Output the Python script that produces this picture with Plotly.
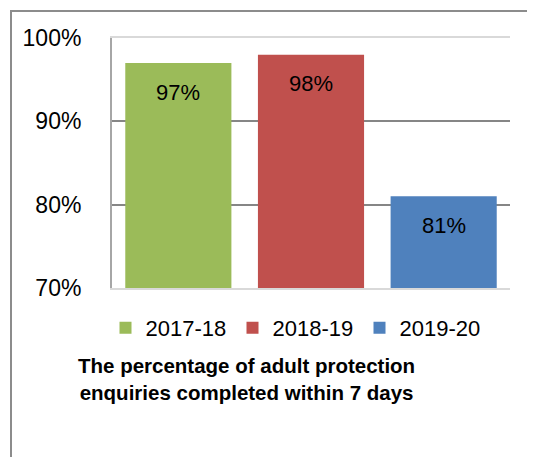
import plotly.graph_objects as go

categories = ["2017-18", "2018-19", "2019-20"]
values = [97, 98, 81]
labels = ["97%", "98%", "81%"]
colors = ["#9BBB59", "#C0504D", "#4F81BD"]
tick_vals = [70, 80, 90, 100]
tick_text = ["70%", "80%", "90%", "100%"]
title_lines = ["The percentage of adult protection", "enquiries completed within 7 days"]

OFF = 8  # page body margin
W, H = 535 - OFF, 457 - OFF
L, R, T, B = 112 - OFF, 25, 38 - OFF, 457 - 288
pw, ph = W - L - R, H - T - B

def px(x):
    return (x - OFF - L) / pw

def py(y):
    return (H - B - (y - OFF)) / ph

FONT = "Liberation Sans"

fig = go.Figure()
for c, v, col in zip(categories, values, colors):
    fig.add_trace(go.Bar(x=[c], y=[v], name=c, marker=dict(color=col, line=dict(width=0)),
                         showlegend=True))

for c, v, lab in zip(categories, values, labels):
    fig.add_annotation(x=c, y=v, text=lab, showarrow=False, yshift=-29,
                       font=dict(family=FONT, size=22, color="black"))

fig.add_annotation(xref="paper", yref="paper", x=px(246), y=py(379), xanchor="center",
                   yanchor="middle",
                   text="<b>" + "<br>".join(title_lines) + "</b>", showarrow=False,
                   align="center", font=dict(family=FONT, size=20.5, color="black"))

# outer border (left and top)
fig.add_shape(type="line", xref="paper", yref="paper", x0=px(11), y0=py(11), x1=px(11), y1=py(470),
              line=dict(color="#8c8c8c", width=2))
fig.add_shape(type="line", xref="paper", yref="paper", x0=px(10), y0=py(11), x1=px(545), y1=py(11),
              line=dict(color="#8c8c8c", width=2))

fig.update_layout(
    width=W, height=H,
    margin=dict(l=L, r=R, t=T, b=B),
    paper_bgcolor="white", plot_bgcolor="white",
    barmode="overlay", bargap=0.2,
    showlegend=True,
    legend=dict(orientation="h", x=px(296), xanchor="center", y=py(328), yanchor="middle",
                font=dict(family=FONT, size=22, color="black"), itemclick=False,
                traceorder="normal", tracegroupgap=0, itemwidth=30,
                entrywidth=82, entrywidthmode="pixels"),
    font=dict(family=FONT, color="black"),
)
fig.update_xaxes(type="category", categoryorder="array", categoryarray=categories,
                 showticklabels=False, showline=True, linecolor="#d9d9d9", linewidth=2,
                 mirror=True, showgrid=False, ticks="")
fig.update_yaxes(range=[70, 100], tickvals=tick_vals, ticktext=tick_text, showgrid=True,
                 gridcolor="#868686", gridwidth=2, showline=True, linecolor="#a6a6a6",
                 linewidth=2, ticks="", ticklabelstandoff=24,
                 tickfont=dict(family=FONT, size=23, color="black"), zeroline=False)

fig.write_html("out.html")
